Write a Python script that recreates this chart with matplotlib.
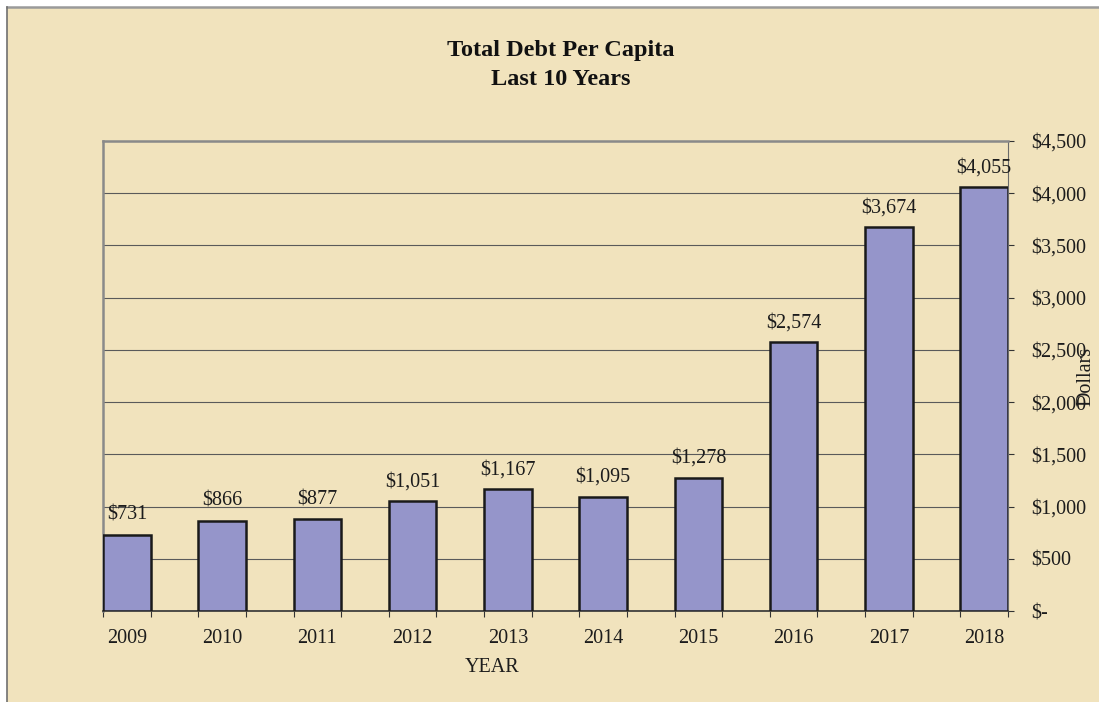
import matplotlib.pyplot as plt
from matplotlib.ticker import FixedLocator, FuncFormatter
from matplotlib.lines import Line2D
from matplotlib.patches import Rectangle

# Data
years = ['2009', '2010', '2011', '2012', '2013', '2014', '2015', '2016', '2017', '2018']
debt_per_capita = [731, 866, 877, 1051, 1167, 1095, 1278, 2574, 3674, 4055]
y_ticks = [0, 500, 1000, 1500, 2000, 2500, 3000, 3500, 4000, 4500]

plt.rcParams['font.family'] = ['Liberation Serif', 'DejaVu Serif']

bg = '#F1E3BD'
bar_color = '#9595CA'
txt = '#1c1c1c'

fig = plt.figure(figsize=(10.99, 7.02), dpi=100, facecolor='white')

# Parchment panel with grey top/left edge
fig.patches.append(Rectangle((7 / 1099, 0), 1 - 7 / 1099, 1 - 7 / 702,
                             transform=fig.transFigure, facecolor=bg,
                             edgecolor='none', zorder=-2))
fig.lines.append(Line2D([7 / 1099, 1], [1 - 7 / 702, 1 - 7 / 702],
                        transform=fig.transFigure, color='#9a9a9a', lw=1.8, zorder=-1))
fig.lines.append(Line2D([7 / 1099, 7 / 1099], [0, 1 - 7 / 702],
                        transform=fig.transFigure, color='#707070', lw=1.2, zorder=-1))

ax = fig.add_axes([103 / 1099, 1 - 611 / 702, 905 / 1099, 470 / 702])
ax.set_facecolor('none')

x = list(range(len(years)))
bars = ax.bar(x, debt_per_capita, width=0.5, color=bar_color,
              edgecolor='#1a1a1a', linewidth=1.8, zorder=3)
ax.bar_label(bars, labels=[f'${v:,}' for v in debt_per_capita],
             padding=7, fontsize=14.5, color=txt)

ax.set_xlim(-0.25, len(years) - 0.75)
ax.set_ylim(0, 4500)

# gridlines
ax.yaxis.set_major_locator(FixedLocator(y_ticks))
ax.grid(axis='y', color='#5a5a5a', linewidth=0.8, zorder=1)
ax.set_axisbelow(True)

# right-side dollar axis
ax.yaxis.tick_right()
ax.yaxis.set_major_formatter(FuncFormatter(lambda v, p: '$-' if v == 0 else f'${v:,.0f}'))
ax.tick_params(axis='y', which='major', length=4, width=0.8, color='#333333',
               pad=13, labelsize=14.5, labelcolor=txt)
ax.set_ylabel('Dollars', fontsize=14.5, color=txt, rotation=90)
ax.yaxis.set_label_position('right')
ax.yaxis.set_label_coords(1.076, 0.5)

# x axis: labels under bars, ticks at bar edges
ax.set_xticks(x)
ax.set_xticklabels(years)
edges = [i - 0.25 for i in x] + [i + 0.25 for i in x]
ax.xaxis.set_minor_locator(FixedLocator(sorted(edges)))
ax.tick_params(axis='x', which='major', length=0, pad=13, labelsize=14.5,
               labelcolor=txt)
ax.tick_params(axis='x', which='minor', length=4, width=0.8, color='#333333')

for side in ['top', 'left']:
    ax.spines[side].set_color('#8a8a8a')
    ax.spines[side].set_linewidth(1.8)
ax.spines['right'].set_color('#6a6a6a')
ax.spines['right'].set_linewidth(0.8)
ax.spines['bottom'].set_color('#333333')
ax.spines['bottom'].set_linewidth(1.2)

fig.text(492 / 1099, 1 - 668 / 702, 'YEAR', fontsize=14.5, color=txt,
         ha='center', va='center')
fig.text(561 / 1099, 1 - 65 / 702, 'Total Debt Per Capita\nLast 10 Years',
         fontsize=17.5, fontweight='bold', color='#111111', ha='center',
         va='center', linespacing=1.45)

fig.savefig('out.png', dpi=100, facecolor='white')
